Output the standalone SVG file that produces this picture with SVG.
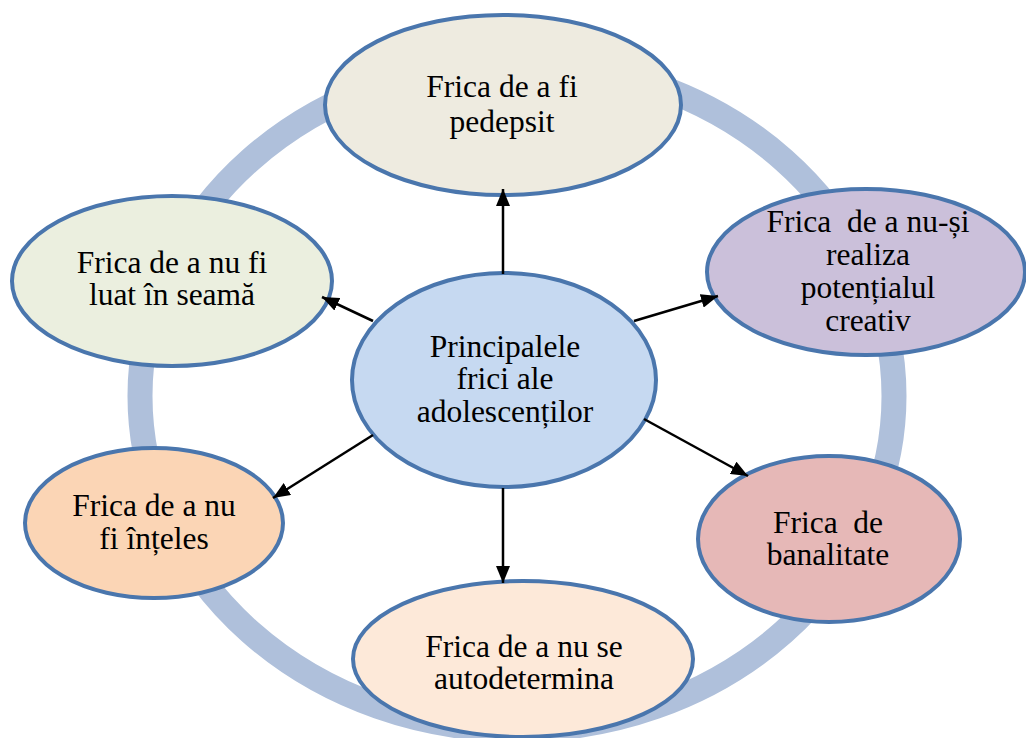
<svg xmlns="http://www.w3.org/2000/svg" width="1026" height="738" viewBox="0 0 1026 738">
<defs>
<style>
.ring{fill:none;stroke:#AFC0DB;stroke-width:25}
.node{stroke:#4A76AD;stroke-width:4}
.lbl{font-family:"Liberation Serif","Times New Roman",serif;font-size:31.5px;fill:#000;text-anchor:middle}
.conn{stroke:#000;stroke-width:2.5;fill:none;marker-end:url(#ah)}
</style>
<marker id="ah" markerUnits="userSpaceOnUse" markerWidth="18" markerHeight="14" refX="17" refY="7" orient="auto">
<path d="M0,0 L17,7 L0,14 z" fill="#000"/>
</marker>
</defs>
<rect width="1026" height="738" fill="#fff"/>
<ellipse class="ring" cx="517" cy="396" rx="377" ry="334"/>

<g id="node-top">
<ellipse class="node" cx="503" cy="105" rx="178" ry="90" fill="#EEEBE0"/>
<text class="lbl" x="502" y="97">Frica de a fi</text>
<text class="lbl" x="502" y="132">pedepsit</text>
</g>
<g id="node-left">
<ellipse class="node" cx="172" cy="281" rx="160" ry="85" fill="#EBEFDF"/>
<text class="lbl" x="172" y="273">Frica de a nu fi</text>
<text class="lbl" x="172" y="305">luat în seamă</text>
</g>
<g id="node-right">
<ellipse class="node" cx="866" cy="272" rx="159" ry="83" fill="#CBC0DA"/>
<text class="lbl" x="868" y="232" xml:space="preserve">Frica  de a nu-și</text>
<text class="lbl" x="868" y="265">realiza</text>
<text class="lbl" x="868" y="298">potențialul</text>
<text class="lbl" x="868" y="331">creativ</text>
</g>
<g id="node-center">
<ellipse class="node" cx="504" cy="380" rx="152" ry="107" fill="#C6D9F1"/>
<text class="lbl" x="505" y="357">Principalele</text>
<text class="lbl" x="505" y="389">frici ale</text>
<text class="lbl" x="505" y="422">adolescenților</text>
</g>
<g id="node-lowleft">
<ellipse class="node" cx="154" cy="523" rx="129" ry="75" fill="#FBD5B5"/>
<text class="lbl" x="154" y="516">Frica de a nu</text>
<text class="lbl" x="154" y="549">fi înțeles</text>
</g>
<g id="node-lowright">
<ellipse class="node" cx="829" cy="539" rx="131" ry="83" fill="#E6B8B7"/>
<text class="lbl" x="828" y="533" xml:space="preserve">Frica  de</text>
<text class="lbl" x="828" y="565">banalitate</text>
</g>
<g id="node-bottom">
<ellipse class="node" cx="523" cy="659" rx="170" ry="78" fill="#FDE9D9"/>
<text class="lbl" x="524" y="657">Frica de a nu se</text>
<text class="lbl" x="524" y="689">autodetermina</text>
</g>

<g id="connectors">
<line class="conn" x1="503" y1="274" x2="503" y2="189"/>
<line class="conn" x1="373" y1="321" x2="322" y2="297"/>
<line class="conn" x1="634" y1="321" x2="718" y2="296"/>
<line class="conn" x1="373" y1="435" x2="273" y2="498"/>
<line class="conn" x1="503" y1="488" x2="503" y2="583"/>
<line class="conn" x1="644" y1="419" x2="748" y2="476"/>
</g>
</svg>
